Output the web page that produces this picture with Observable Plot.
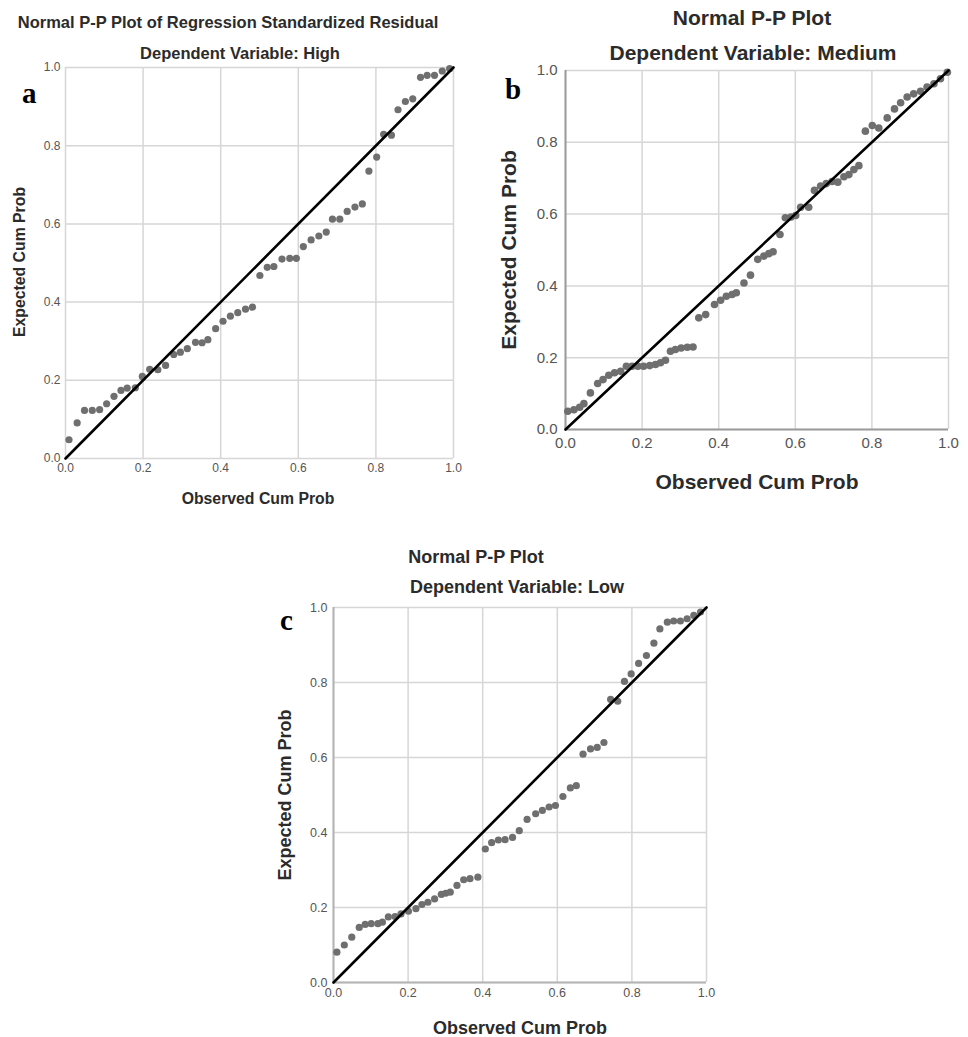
<!DOCTYPE html>
<html><head><meta charset="utf-8">
<script src="https://cdn.jsdelivr.net/npm/d3@7"></script>
<script src="https://cdn.jsdelivr.net/npm/@observablehq/plot@0.6"></script>
<style>
body{margin:0;background:#fff;}
#root{position:relative;width:968px;height:1037px;overflow:hidden;font-family:"Liberation Sans",Arial,sans-serif;}
.t{position:absolute;white-space:nowrap;font-weight:bold;color:#2b2b2b;transform:translate(-50%,-50%);line-height:1;}
.yl{transform:translate(-50%,-50%) rotate(-90deg);}
.lab{position:absolute;font-family:"Liberation Serif","Times New Roman",serif;font-weight:bold;color:#000;line-height:1;}
.panel{position:absolute;}
</style></head><body><div id="root"></div>
<script>
// Panel a — Dependent Variable: High
const highObserved = [0.009,0.030,0.049,0.069,0.088,0.106,0.125,0.143,0.159,0.180,0.198,0.217,0.238,0.258,0.279,0.296,0.314,0.335,0.352,0.367,0.387,0.406,0.425,0.444,0.464,0.482,0.501,0.520,0.537,0.558,0.578,0.595,0.613,0.633,0.653,0.672,0.688,0.707,0.726,0.746,0.765,0.782,0.802,0.820,0.840,0.857,0.876,0.895,0.915,0.932,0.951,0.971,0.990];
const highExpected = [0.048,0.091,0.123,0.123,0.125,0.140,0.159,0.174,0.180,0.181,0.210,0.228,0.227,0.238,0.266,0.272,0.281,0.297,0.296,0.304,0.332,0.351,0.364,0.373,0.382,0.387,0.468,0.489,0.491,0.510,0.512,0.512,0.542,0.559,0.569,0.579,0.612,0.612,0.632,0.643,0.651,0.735,0.771,0.829,0.827,0.892,0.913,0.920,0.975,0.980,0.980,0.991,0.997];

// Panel b — Dependent Variable: Medium
const mediumObserved = [0.006,0.022,0.037,0.048,0.065,0.084,0.098,0.113,0.128,0.144,0.159,0.174,0.189,0.204,0.220,0.235,0.248,0.261,0.274,0.287,0.302,0.318,0.333,0.348,0.366,0.389,0.405,0.420,0.435,0.446,0.466,0.483,0.502,0.518,0.531,0.542,0.560,0.574,0.589,0.601,0.614,0.635,0.650,0.666,0.681,0.696,0.711,0.727,0.740,0.753,0.766,0.783,0.801,0.818,0.840,0.859,0.875,0.892,0.909,0.927,0.944,0.962,0.979,0.997];
const mediumExpected = [0.051,0.055,0.062,0.072,0.102,0.128,0.139,0.151,0.158,0.162,0.176,0.176,0.176,0.176,0.178,0.181,0.186,0.193,0.218,0.223,0.227,0.229,0.230,0.311,0.320,0.348,0.360,0.371,0.376,0.381,0.408,0.430,0.474,0.483,0.490,0.495,0.543,0.590,0.592,0.596,0.619,0.619,0.666,0.678,0.685,0.691,0.689,0.704,0.710,0.724,0.735,0.831,0.847,0.840,0.868,0.893,0.910,0.926,0.935,0.942,0.954,0.963,0.977,0.995];

// Panel c — Dependent Variable: Low
const lowObserved = [0.009,0.029,0.049,0.069,0.085,0.101,0.119,0.131,0.147,0.165,0.181,0.201,0.221,0.237,0.253,0.271,0.289,0.301,0.313,0.331,0.349,0.366,0.387,0.407,0.424,0.442,0.460,0.480,0.498,0.519,0.542,0.560,0.578,0.595,0.615,0.635,0.651,0.669,0.689,0.707,0.725,0.743,0.762,0.780,0.798,0.818,0.839,0.859,0.875,0.895,0.912,0.930,0.948,0.966,0.984];
const lowExpected = [0.081,0.100,0.121,0.147,0.155,0.157,0.157,0.161,0.175,0.176,0.183,0.190,0.197,0.208,0.214,0.223,0.235,0.238,0.241,0.259,0.274,0.277,0.281,0.356,0.373,0.380,0.381,0.387,0.405,0.435,0.450,0.459,0.468,0.472,0.496,0.519,0.525,0.609,0.623,0.627,0.640,0.755,0.750,0.803,0.823,0.851,0.872,0.905,0.943,0.961,0.964,0.964,0.970,0.979,0.988];

const tickValues = [0, 0.2, 0.4, 0.6, 0.8, 1.0];
const refLine = [0, 1];
const xTitle = "Observed Cum Prob";
const yTitle = "Expected Cum Prob";

const root = document.getElementById("root");
const fmt = d3.format(".1f");

function addText(cls, txt, x, y, size, extra) {
  const d = document.createElement("div");
  d.className = cls;
  d.textContent = txt;
  d.style.left = x + "px";
  d.style.top = y + "px";
  d.style.fontSize = size + "px";
  if (extra) Object.assign(d.style, extra);
  root.appendChild(d);
}

function panel(o) {
  const data = o.obs.map((v, i) => ({obs: v, exp: o.exp[i]}));
  const marks = [
    Plot.gridX({ticks: tickValues, stroke: "#d6d6d6", strokeOpacity: 1, strokeWidth: 1.5}),
    Plot.gridY({ticks: tickValues, stroke: "#d6d6d6", strokeOpacity: 1, strokeWidth: 1.5}),
  ];
  if (o.axisStroke) {
    marks.push(Plot.ruleX([0], {stroke: o.axisStroke, strokeWidth: 2}));
    marks.push(Plot.ruleY([0], {stroke: o.axisStroke, strokeWidth: 2}));
  }
  marks.push(
    Plot.axisX({ticks: tickValues, tickFormat: fmt, tickSize: 0, tickPadding: o.padX, label: null, fill: "#555"}),
    Plot.axisY({ticks: tickValues, tickFormat: fmt, tickSize: 0, tickPadding: o.padY, label: null, fill: "#555"}),
    Plot.dot(data, {x: "obs", y: "exp", r: o.r, fill: "#6f6f6f", stroke: null}),
    Plot.line(refLine, {x: d => d, y: d => d, stroke: "#000", strokeWidth: 2.6})
  );
  const svg = Plot.plot({
    width: o.width, height: o.height,
    marginLeft: o.ml, marginTop: o.mt, marginRight: o.mr, marginBottom: o.mb,
    x: {domain: [0, 1]}, y: {domain: [0, 1]},
    style: {fontSize: o.tickFont + "px", fontFamily: '"Liberation Sans", Arial, sans-serif', background: "transparent", overflow: "visible"},
    marks
  });
  const wrap = document.createElement("div");
  wrap.className = "panel";
  wrap.style.left = o.left + "px";
  wrap.style.top = o.top + "px";
  wrap.appendChild(svg);
  root.appendChild(wrap);
}

// Panel a: frame 65..453 x 67..458
panel({obs: highObserved, exp: highExpected, left: 0, top: 60, ml: 65, mt: 7, mr: 15, mb: 22,
  width: 468, height: 420, tickFont: 12, padX: 5, padY: 5, r: 3.6});
addText("t", "Normal P-P Plot of Regression Standardized Residual", 228, 22, 16.5);
addText("t", "Dependent Variable: High", 240, 53, 16.5);
addText("t", xTitle, 258, 499, 15.8);
addText("t yl", yTitle, 20, 262, 15.8);
addText("lab", "a", 22, 79, 29);

// Panel b: frame 565..948 x 70..429
panel({obs: mediumObserved, exp: mediumExpected, left: 480, top: 60, ml: 85, mt: 10, mr: 20, mb: 28,
  width: 488, height: 397, tickFont: 15, padX: 8, padY: 8, r: 3.8, axisStroke: "#9c9c9c"});
addText("t", "Normal P-P Plot", 752, 17, 21);
addText("t", "Dependent Variable: Medium", 753, 52, 21);
addText("t", xTitle, 757, 481, 21);
addText("t yl", yTitle, 508, 250, 21);
addText("lab", "b", 505, 75, 29);

// Panel c: frame 333..706 x 607..982
panel({obs: lowObserved, exp: lowExpected, left: 250, top: 595, ml: 83, mt: 12, mr: 20, mb: 25,
  width: 476, height: 412, tickFont: 12.5, padX: 6, padY: 6, r: 3.6, axisStroke: "#b4b4b4"});
addText("t", "Normal P-P Plot", 476, 557, 18);
addText("t", "Dependent Variable: Low", 517, 587, 18);
addText("t", xTitle, 520, 1028, 18);
addText("t yl", yTitle, 285, 795, 18);
addText("lab", "c", 280, 606, 29);
</script></body></html>
